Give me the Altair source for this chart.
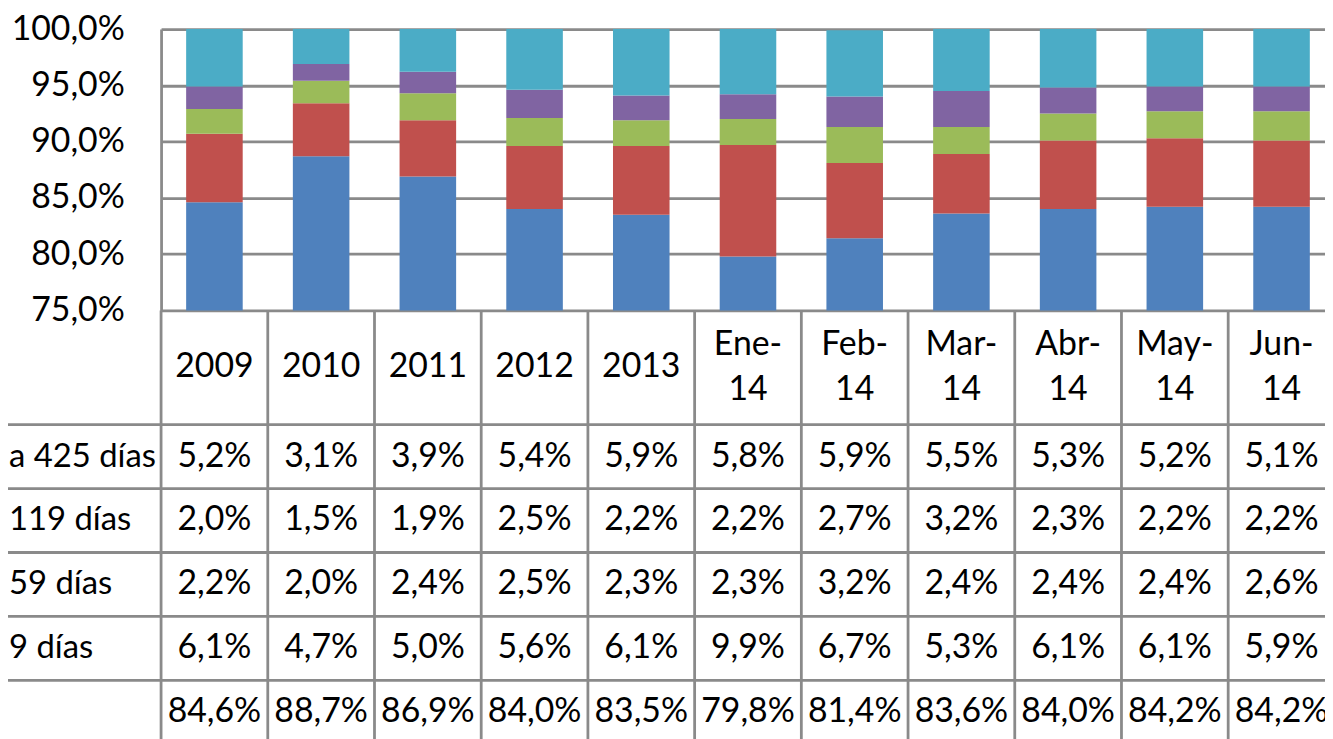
import altair as alt
import pandas as pd

# ---- data ----
categories = ["2009", "2010", "2011", "2012", "2013", "Ene-14", "Feb-14",
              "Mar-14", "Abr-14", "May-14", "Jun-14"]
header_labels = ["2009", "2010", "2011", "2012", "2013", "Ene-\n14", "Feb-\n14",
                 "Mar-\n14", "Abr-\n14", "May-\n14", "Jun-\n14"]
# series, bottom of stack -> top of stack (labels as visible in the picture)
series_names = ["", "9 días", "59 días", "119 días", "a 425 días"]
vals_blue = [84.6, 88.7, 86.9, 84.0, 83.5, 79.8, 81.4, 83.6, 84.0, 84.2, 84.2]
vals_red = [6.1, 4.7, 5.0, 5.6, 6.1, 9.9, 6.7, 5.3, 6.1, 6.1, 5.9]
vals_green = [2.2, 2.0, 2.4, 2.5, 2.3, 2.3, 3.2, 2.4, 2.4, 2.4, 2.6]
vals_purple = [2.0, 1.5, 1.9, 2.5, 2.2, 2.2, 2.7, 3.2, 2.3, 2.2, 2.2]
vals_cyan = [5.2, 3.1, 3.9, 5.4, 5.9, 5.8, 5.9, 5.5, 5.3, 5.2, 5.1]
y_ticks = [75, 80, 85, 90, 95, 100]

colors = ["#4F81BD", "#C0504D", "#9BBB59", "#8064A2", "#4BACC6"]
GRID = "#8a8a8a"
LW = 2.8
FONT = "Lato"
FS = 34

all_vals = [vals_blue, vals_red, vals_green, vals_purple, vals_cyan]
recs = []
for k, (name, vals) in enumerate(zip(series_names, all_vals)):
    for i, (c, v) in enumerate(zip(categories, vals)):
        recs.append({"cat": c, "i": i, "series": name, "value": v, "ord": k,
                     "label": f"{v:.1f}".replace(".", ",") + "%"})
df = pd.DataFrame(recs)
row_order = series_names[::-1]  # table rows top -> bottom

# ---- layout ----
W, H = 1171, 712
PAD_L, PAD_T = 154, 19
BAR_BOTTOM = 283
HDR_BOTTOM = 398
ROW_STEP = 64.3
LINE_H = 46
STEP = 107.36             # pixel width of one category column
BAR_FRAC = 0.53

# x is the category index; the visible width holds W/STEP columns (last one cut off)
xsc = alt.Scale(domain=[0, W / STEP], nice=False, zero=False)

rows_scale = alt.Scale(domain=row_order, range=[HDR_BOTTOM, HDR_BOTTOM + 5 * ROW_STEP],
                       paddingInner=0, paddingOuter=0)

base = alt.Chart(df).transform_calculate(
    x0=f"datum.i + {(1 - BAR_FRAC) / 2}",
    x1=f"datum.i + {(1 + BAR_FRAC) / 2}",
    xc="datum.i + 0.5",
)

bars = base.transform_stack(
    stack="value", groupby=["cat"], as_=["v0", "v1"],
    sort=[alt.SortField("ord", order="ascending")],
).mark_bar().encode(
    x=alt.X("x0:Q", scale=xsc, axis=None),
    x2="x1:Q",
    y=alt.Y("v0:Q",
            scale=alt.Scale(domain=[75, 100], range=[BAR_BOTTOM, 0], clamp=True,
                            nice=False, zero=False),
            axis=alt.Axis(values=y_ticks, title=None, grid=True, gridColor=GRID,
                          gridWidth=LW, domain=True, domainColor=GRID, domainWidth=LW,
                          ticks=False, labelPadding=37, labelFont=FONT, labelFontSize=FS,
                          labelColor="black",
                          labelExpr="replace(format(datum.value, '.1f'), '.', ',') + '%'")),
    y2="v1:Q",
    color=alt.Color("series:N", scale=alt.Scale(domain=series_names, range=colors),
                    legend=None),
)

hdr_df = pd.DataFrame({"cat": categories, "i": list(range(len(categories))),
                       "label": header_labels, "row": "h"})
hdr_base = alt.Chart(hdr_df).transform_calculate(xc="datum.i + 0.5")
hdr_y = alt.Y("row:N", scale=alt.Scale(domain=["h"], range=[BAR_BOTTOM, HDR_BOTTOM],
                                       paddingInner=0, paddingOuter=0), axis=None)
header_single = hdr_base.transform_filter(
    "indexof(datum.label, '\\n') < 0"
).mark_text(font=FONT, fontSize=FS, baseline="middle", align="center", color="black").encode(
    x=alt.X("xc:Q", scale=xsc, axis=None), y=hdr_y, text="label:N",
)
header_multi = hdr_base.transform_filter(
    "indexof(datum.label, '\\n') >= 0"
).mark_text(font=FONT, fontSize=FS, lineBreak="\n", lineHeight=LINE_H, dy=-LINE_H / 2,
            baseline="middle", align="center", color="black").encode(
    x=alt.X("xc:Q", scale=xsc, axis=None), y=hdr_y, text="label:N",
)

cells = base.mark_text(font=FONT, fontSize=FS, baseline="middle", align="center",
                       color="black").encode(
    x=alt.X("xc:Q", scale=xsc, axis=None),
    y=alt.Y("series:N", scale=rows_scale, axis=None),
    text="label:N",
)

rows_df = pd.DataFrame({"series": row_order})
hlines = alt.Chart(rows_df).mark_rule(color=GRID, strokeWidth=LW).encode(
    y=alt.Y("series:N", scale=rows_scale, bandPosition=0, axis=None),
    x=alt.value(-PAD_L - 8),
    x2=alt.value(W),
)

vlines = alt.Chart(hdr_df).mark_rule(color=GRID, strokeWidth=LW).encode(
    x=alt.X("i:Q", scale=xsc, axis=None),
    y=alt.value(BAR_BOTTOM),
    y2=alt.value(H + 40),
)

row_labels = alt.Chart(rows_df).mark_text(font=FONT, fontSize=33, baseline="middle",
                                          align="left", color="black").encode(
    y=alt.Y("series:N", scale=rows_scale, axis=None),
    x=alt.value(-PAD_L + 1),
    text="series:N",
)

chart = alt.layer(bars, header_single, header_multi, cells, hlines, vlines,
                  row_labels).resolve_scale(
    y="independent"
).properties(
    width=W, height=H,
    autosize=alt.AutoSizeParams(type="none"),
    padding={"left": PAD_L, "top": PAD_T, "right": 0, "bottom": 0},
    background="white",
).configure_view(stroke=None)

chart.save("out.html", embed_options={"renderer": "svg", "actions": False})
